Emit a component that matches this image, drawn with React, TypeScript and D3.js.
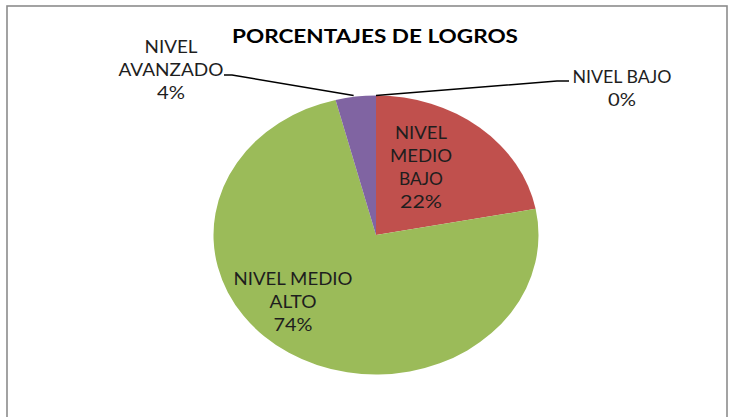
import React from "react";
import * as d3 from "d3";

const categories = ["NIVEL BAJO", "NIVEL MEDIO BAJO", "NIVEL MEDIO ALTO", "NIVEL AVANZADO"];
const values = [0, 22, 74, 4];
const percentLabels = ["0%", "22%", "74%", "4%"];
const colors = ["#4F81BD", "#C0504D", "#9BBB59", "#8064A2"];
const title = "PORCENTAJES DE LOGROS";

// label line breaks and layout (text placement, not data)
const labelLines: Record<string, string[]> = {
  "NIVEL BAJO": ["NIVEL BAJO"],
  "NIVEL MEDIO BAJO": ["NIVEL", "MEDIO", "BAJO"],
  "NIVEL MEDIO ALTO": ["NIVEL MEDIO", "ALTO"],
  "NIVEL AVANZADO": ["NIVEL", "AVANZADO"],
};
const labelLayout: Record<string, { x: number; y: number; widths: number[] }> = {
  "NIVEL BAJO": { x: 622, y: 83, widths: [99, 28] },
  "NIVEL MEDIO BAJO": { x: 421, y: 139, widths: [52, 62, 44, 42] },
  "NIVEL MEDIO ALTO": { x: 293, y: 285, widths: [119, 47, 39] },
  "NIVEL AVANZADO": { x: 171, y: 53, widths: [53, 105, 28] },
};

const W = 733;
const H = 417;
const cx = 376;
const cy = 235;
const rx = 162.5;
const ry = 139.5;
const lineH = 23;

export default function App() {
  const pie = d3.pie<number>().sort(null).value((d) => d);
  const arcs = pie(values);
  const arc = d3.arc<d3.PieArcDatum<number>>().innerRadius(0).outerRadius(rx);

  // point on the ellipse edge at a given pie angle
  const edge = (a: number) => [cx + rx * Math.sin(a), cy - ry * Math.cos(a)];

  const bajoEdge = edge(arcs[0].startAngle);
  const avEdge = edge((arcs[3].startAngle + arcs[3].endAngle) / 2);

  const font = "Lato, 'Liberation Sans', sans-serif";

  return (
    <svg
      width={W}
      height={H}
      style={{ position: "absolute", left: 0, top: 0, background: "#fff" }}
    >
      <rect x={0} y={0} width={W} height={H} fill="#fff" />
      <rect x={7} y={6} width={720} height={430} fill="none" stroke="#8c8c8c" strokeWidth={1.6} />
      <text
        x={375}
        y={43}
        textAnchor="middle"
        fontFamily={font}
        fontWeight="bold"
        fontSize={19}
        fill="#000"
        textLength={286}
        lengthAdjust="spacingAndGlyphs"
      >
        {title}
      </text>
      <g transform={`translate(${cx},${cy}) scale(1,${ry / rx})`}>
        {arcs.map((a, i) => (
          <path key={categories[i]} d={arc(a) || ""} fill={colors[i]} />
        ))}
      </g>
      {/* leader lines */}
      <polyline
        points={`${bajoEdge[0]},${bajoEdge[1]} 557,81 569,81`}
        fill="none"
        stroke="#000"
        strokeWidth={1.5}
      />
      <polyline
        points={`224,75 232,75 ${avEdge[0] - 2},${avEdge[1] - 1}`}
        fill="none"
        stroke="#000"
        strokeWidth={1.5}
      />
      {categories.map((c, i) => {
        const lay = labelLayout[c];
        const lines = [...labelLines[c], percentLabels[i]];
        return (
          <g key={c}>
            {lines.map((t, j) => (
              <text
                key={j}
                x={lay.x}
                y={lay.y + j * lineH}
                textAnchor="middle"
                fontFamily={font}
                fontSize={17}
                fill="#1e1e1e"
                textLength={lay.widths[j]}
                lengthAdjust="spacingAndGlyphs"
              >
                {t}
              </text>
            ))}
          </g>
        );
      })}
    </svg>
  );
}
